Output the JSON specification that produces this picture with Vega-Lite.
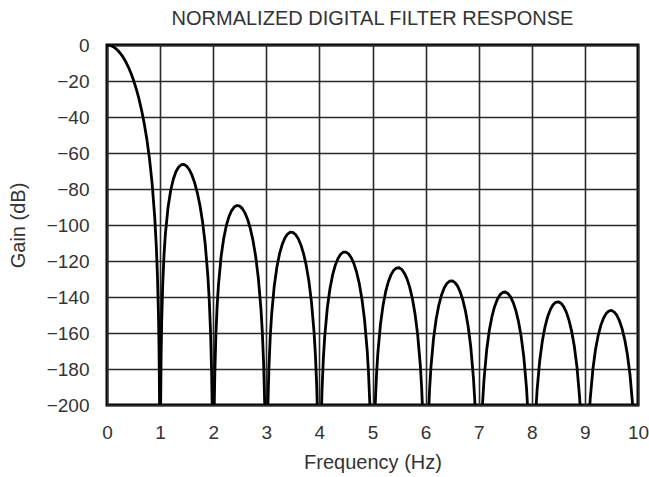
{
  "$schema": "https://vega.github.io/schema/vega-lite/v6.json",
  "width": 531,
  "height": 360,
  "autosize": "none",
  "padding": {"left": 107, "top": 45, "right": 11, "bottom": 72},
  "background": "white",
  "title": {
    "text": "NORMALIZED DIGITAL FILTER RESPONSE",
    "anchor": "middle",
    "font": "Liberation Sans",
    "fontSize": 20,
    "fontWeight": "normal",
    "color": "#333333",
    "offset": 7
  },
  "config": {
    "view": {"stroke": "#000000", "strokeWidth": 3},
    "axis": {
      "labelFont": "Liberation Sans",
      "titleFont": "Liberation Sans",
      "labelFontSize": 19,
      "titleFontSize": 20,
      "labelColor": "#333333",
      "titleColor": "#333333",
      "titleFontWeight": "normal",
      "ticks": false,
      "domain": false,
      "grid": true,
      "gridColor": "#2a2a2a",
      "gridWidth": 1.6,
      "gridOpacity": 1
    }
  },
  "data": {
    "values": [
      {"f": 0, "g": 0}, {"f": 0.05, "g": -0.18}, {"f": 0.1, "g": -0.72}, {"f": 0.15, "g": -1.62},
      {"f": 0.2, "g": -2.9}, {"f": 0.25, "g": -4.56}, {"f": 0.3, "g": -6.63}, {"f": 0.35, "g": -9.13},
      {"f": 0.4, "g": -12.1}, {"f": 0.45, "g": -15.57}, {"f": 0.5, "g": -19.61}, {"f": 0.55, "g": -24.29},
      {"f": 0.6, "g": -29.71}, {"f": 0.65, "g": -36.02}, {"f": 0.7, "g": -43.43}, {"f": 0.75, "g": -52.27},
      {"f": 0.8, "g": -63.1}, {"f": 0.85, "g": -76.96}, {"f": 0.9, "g": -96.14}, {"f": 0.93, "g": -112.69},
      {"f": 0.95, "g": -128.06}, {"f": 0.97, "g": -151.03}, {"f": 0.98, "g": -169.05}, {"f": 0.99, "g": -199.57},

      {"f": 1.01, "g": -200.44}, {"f": 1.02, "g": -170.79}, {"f": 1.03, "g": -153.64}, {"f": 1.05, "g": -132.4},
      {"f": 1.075, "g": -116.04}, {"f": 1.1, "g": -104.85}, {"f": 1.15, "g": -90.09}, {"f": 1.2, "g": -80.71},
      {"f": 1.25, "g": -74.46}, {"f": 1.3, "g": -70.31}, {"f": 1.35, "g": -67.76}, {"f": 1.4, "g": -66.51},
      {"f": 1.45, "g": -66.39}, {"f": 1.5, "g": -67.32}, {"f": 1.55, "g": -69.29}, {"f": 1.6, "g": -72.31},
      {"f": 1.65, "g": -76.47}, {"f": 1.7, "g": -81.96}, {"f": 1.75, "g": -89.07}, {"f": 1.8, "g": -98.32},
      {"f": 1.85, "g": -110.73}, {"f": 1.9, "g": -128.59}, {"f": 1.925, "g": -141.34}, {"f": 1.95, "g": -159.29},
      {"f": 1.97, "g": -181.8}, {"f": 1.98, "g": -199.59}, {"f": 1.99, "g": -229.89},

      {"f": 2.01, "g": -230.33}, {"f": 2.02, "g": -200.46}, {"f": 2.03, "g": -183.11}, {"f": 2.05, "g": -161.46},
      {"f": 2.075, "g": -144.6}, {"f": 2.1, "g": -132.94}, {"f": 2.15, "g": -117.26}, {"f": 2.2, "g": -107.04},
      {"f": 2.25, "g": -99.98}, {"f": 2.3, "g": -95.09}, {"f": 2.35, "g": -91.83}, {"f": 2.4, "g": -89.92},
      {"f": 2.45, "g": -89.17}, {"f": 2.5, "g": -89.51}, {"f": 2.55, "g": -90.91}, {"f": 2.6, "g": -93.39},
      {"f": 2.65, "g": -97.05}, {"f": 2.7, "g": -102.05}, {"f": 2.75, "g": -108.7}, {"f": 2.8, "g": -117.51},
      {"f": 2.85, "g": -129.5}, {"f": 2.9, "g": -146.96}, {"f": 2.925, "g": -159.51}, {"f": 2.95, "g": -177.27},
      {"f": 2.97, "g": -199.63}, {"f": 2.98, "g": -217.35}, {"f": 2.99, "g": -247.57},

      {"f": 3.01, "g": -247.86}, {"f": 3.02, "g": -217.93}, {"f": 3.03, "g": -200.5}, {"f": 3.05, "g": -178.72},
      {"f": 3.075, "g": -161.68}, {"f": 3.1, "g": -149.85}, {"f": 3.15, "g": -133.85}, {"f": 3.2, "g": -123.31},
      {"f": 3.25, "g": -115.95}, {"f": 3.3, "g": -110.77}, {"f": 3.35, "g": -107.23}, {"f": 3.4, "g": -105.04},
      {"f": 3.45, "g": -104.04}, {"f": 3.5, "g": -104.12}, {"f": 3.55, "g": -105.28}, {"f": 3.6, "g": -107.53},
      {"f": 3.65, "g": -110.95}, {"f": 3.7, "g": -115.74}, {"f": 3.75, "g": -122.17}, {"f": 3.8, "g": -130.77},
      {"f": 3.85, "g": -142.56}, {"f": 3.9, "g": -159.82}, {"f": 3.925, "g": -172.28}, {"f": 3.95, "g": -189.95},
      {"f": 3.97, "g": -212.23}, {"f": 3.98, "g": -229.91}, {"f": 3.99, "g": -260.1},

      {"f": 4.01, "g": -260.32}, {"f": 4.02, "g": -230.35}, {"f": 4.03, "g": -212.89}, {"f": 4.05, "g": -191.03},
      {"f": 4.075, "g": -173.91}, {"f": 4.1, "g": -161.99}, {"f": 4.15, "g": -145.82}, {"f": 4.2, "g": -135.12},
      {"f": 4.25, "g": -127.6}, {"f": 4.3, "g": -122.26}, {"f": 4.35, "g": -118.57}, {"f": 4.4, "g": -116.24},
      {"f": 4.45, "g": -115.09}, {"f": 4.5, "g": -115.04}, {"f": 4.55, "g": -116.06}, {"f": 4.6, "g": -118.17},
      {"f": 4.65, "g": -121.47}, {"f": 4.7, "g": -126.13}, {"f": 4.75, "g": -132.43}, {"f": 4.8, "g": -140.92},
      {"f": 4.85, "g": -152.59}, {"f": 4.9, "g": -169.74}, {"f": 4.925, "g": -182.14}, {"f": 4.95, "g": -199.75},
      {"f": 4.97, "g": -221.99}, {"f": 4.98, "g": -239.65}, {"f": 4.99, "g": -269.82},

      {"f": 5.01, "g": -269.99}, {"f": 5.02, "g": -240.0}, {"f": 5.03, "g": -222.51}, {"f": 5.05, "g": -200.61},
      {"f": 5.075, "g": -183.44}, {"f": 5.1, "g": -171.47}, {"f": 5.15, "g": -155.2}, {"f": 5.2, "g": -144.4},
      {"f": 5.25, "g": -136.78}, {"f": 5.3, "g": -131.34}, {"f": 5.35, "g": -127.56}, {"f": 5.4, "g": -125.13},
      {"f": 5.45, "g": -123.9}, {"f": 5.5, "g": -123.75}, {"f": 5.55, "g": -124.68}, {"f": 5.6, "g": -126.71},
      {"f": 5.65, "g": -129.93}, {"f": 5.7, "g": -134.5}, {"f": 5.75, "g": -140.73}, {"f": 5.8, "g": -149.14},
      {"f": 5.85, "g": -160.73}, {"f": 5.9, "g": -177.8}, {"f": 5.925, "g": -190.16}, {"f": 5.95, "g": -207.74},
      {"f": 5.97, "g": -229.95}, {"f": 5.98, "g": -247.6}, {"f": 5.99, "g": -277.75},

      {"f": 6.01, "g": -277.89}, {"f": 6.02, "g": -247.89}, {"f": 6.03, "g": -230.39}, {"f": 6.05, "g": -208.46},
      {"f": 6.075, "g": -191.25}, {"f": 6.1, "g": -179.25}, {"f": 6.15, "g": -162.9}, {"f": 6.2, "g": -152.03},
      {"f": 6.25, "g": -144.35}, {"f": 6.3, "g": -138.85}, {"f": 6.35, "g": -135.0}, {"f": 6.4, "g": -132.51},
      {"f": 6.45, "g": -131.21}, {"f": 6.5, "g": -131.01}, {"f": 6.55, "g": -131.88}, {"f": 6.6, "g": -133.85},
      {"f": 6.65, "g": -137.01}, {"f": 6.7, "g": -141.52}, {"f": 6.75, "g": -147.7}, {"f": 6.8, "g": -156.05},
      {"f": 6.85, "g": -167.58}, {"f": 6.9, "g": -184.6}, {"f": 6.925, "g": -196.94}, {"f": 6.95, "g": -214.48},
      {"f": 6.97, "g": -236.68}, {"f": 6.98, "g": -254.31}, {"f": 6.99, "g": -284.45},

      {"f": 7.01, "g": -284.58}, {"f": 7.02, "g": -254.56}, {"f": 7.03, "g": -237.05}, {"f": 7.05, "g": -215.1},
      {"f": 7.075, "g": -197.87}, {"f": 7.1, "g": -185.84}, {"f": 7.15, "g": -169.45}, {"f": 7.2, "g": -158.53},
      {"f": 7.25, "g": -150.8}, {"f": 7.3, "g": -145.25}, {"f": 7.35, "g": -141.35}, {"f": 7.4, "g": -138.82},
      {"f": 7.45, "g": -137.47}, {"f": 7.5, "g": -137.22}, {"f": 7.55, "g": -138.05}, {"f": 7.6, "g": -139.98},
      {"f": 7.65, "g": -143.09}, {"f": 7.7, "g": -147.56}, {"f": 7.75, "g": -153.7}, {"f": 7.8, "g": -162.0},
      {"f": 7.85, "g": -173.5}, {"f": 7.9, "g": -190.48}, {"f": 7.925, "g": -202.8}, {"f": 7.95, "g": -220.32},
      {"f": 7.97, "g": -242.5}, {"f": 7.98, "g": -260.13}, {"f": 7.99, "g": -290.26},

      {"f": 8.01, "g": -290.37}, {"f": 8.02, "g": -260.34}, {"f": 8.03, "g": -242.83}, {"f": 8.05, "g": -220.87},
      {"f": 8.075, "g": -203.61}, {"f": 8.1, "g": -191.56}, {"f": 8.15, "g": -175.13}, {"f": 8.2, "g": -164.18},
      {"f": 8.25, "g": -156.41}, {"f": 8.3, "g": -150.82}, {"f": 8.35, "g": -146.89}, {"f": 8.4, "g": -144.32},
      {"f": 8.45, "g": -142.94}, {"f": 8.5, "g": -142.66}, {"f": 8.55, "g": -143.45}, {"f": 8.6, "g": -145.35},
      {"f": 8.65, "g": -148.43}, {"f": 8.7, "g": -152.87}, {"f": 8.75, "g": -158.97}, {"f": 8.8, "g": -167.24},
      {"f": 8.85, "g": -178.71}, {"f": 8.9, "g": -195.65}, {"f": 8.925, "g": -207.96}, {"f": 8.95, "g": -225.47},
      {"f": 8.97, "g": -247.63}, {"f": 8.98, "g": -265.25}, {"f": 8.99, "g": -295.38},

      {"f": 9.01, "g": -295.48}, {"f": 9.02, "g": -265.45}, {"f": 9.03, "g": -247.92}, {"f": 9.05, "g": -225.95},
      {"f": 9.075, "g": -208.68}, {"f": 9.1, "g": -196.62}, {"f": 9.15, "g": -180.16}, {"f": 9.2, "g": -169.17},
      {"f": 9.25, "g": -161.38}, {"f": 9.3, "g": -155.76}, {"f": 9.35, "g": -151.81}, {"f": 9.4, "g": -149.21},
      {"f": 9.45, "g": -147.8}, {"f": 9.5, "g": -147.49}, {"f": 9.55, "g": -148.26}, {"f": 9.6, "g": -150.12},
      {"f": 9.65, "g": -153.18}, {"f": 9.7, "g": -157.59}, {"f": 9.75, "g": -163.67}, {"f": 9.8, "g": -171.92},
      {"f": 9.85, "g": -183.36}, {"f": 9.9, "g": -200.28}, {"f": 9.925, "g": -212.57}, {"f": 9.95, "g": -230.07},
      {"f": 9.97, "g": -252.23}, {"f": 9.98, "g": -269.84}, {"f": 9.99, "g": -299.96}
    ]
  },
  "mark": {"type": "line", "color": "#000000", "strokeWidth": 2.8, "clip": true, "strokeJoin": "round"},
  "encoding": {
    "x": {
      "field": "f",
      "type": "quantitative",
      "scale": {"domain": [0, 10], "nice": false, "zero": false},
      "axis": {"values": [0, 1, 2, 3, 4, 5, 6, 7, 8, 9, 10], "title": "Frequency (Hz)", "labelPadding": 18, "titlePadding": 10, "labelFlush": false}
    },
    "y": {
      "field": "g",
      "type": "quantitative",
      "scale": {"domain": [-200, 0], "nice": false, "zero": false},
      "axis": {"values": [0, -20, -40, -60, -80, -100, -120, -140, -160, -180, -200], "title": "Gain (dB)", "labelPadding": 18, "titlePadding": 18, "labelFlush": false}
    }
  }
}
